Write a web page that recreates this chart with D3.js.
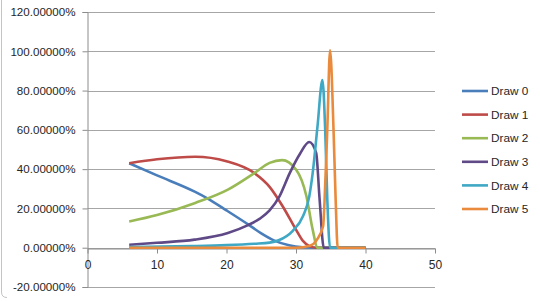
<!DOCTYPE html>
<html>
<head>
<meta charset="utf-8">
<script src="https://cdn.jsdelivr.net/npm/d3@7/dist/d3.min.js"></script>
<style>
  body { margin: 0; background: #fff; }
  svg { display: block; font-family: "Liberation Sans", Arial, sans-serif; }
  .tick text { fill: #262626; }
</style>
</head>
<body>
<svg width="540" height="301"></svg>
<script>
var svg = d3.select("svg");

var seriesNames = ["Draw 0", "Draw 1", "Draw 2", "Draw 3", "Draw 4", "Draw 5"];
var colors = ["#4a7ebb", "#be4b48", "#98b954", "#5f4a87", "#3fa8c4", "#e98a3c"];

var yTicks = [-20, 0, 20, 40, 60, 80, 100, 120];
var xTicks = [0, 10, 20, 30, 40, 50];

// each series: x positions and percent values
var draw0X = [6, 10, 15.5, 17.3, 20, 23.1, 25, 26.9, 29, 31, 32.5, 40];
var draw0Y = [43, 36.8, 28.4, 25, 19, 11.9, 7.3, 3.6, 1.2, 0.2, 0, 0];

var draw1X = [6, 10, 15.5, 20, 24, 26.2, 28.1, 30, 31, 32, 33, 40];
var draw1Y = [43, 45, 46.3, 44, 38, 31, 21, 9.2, 3.5, 0.7, 0, 0];

var draw2X = [6, 10, 15.5, 20.2, 24, 26.2, 28, 30, 31.5, 32.4, 33.1, 40];
var draw2Y = [13.3, 16.6, 22.8, 29.6, 38, 43.2, 44.6, 39.8, 26.2, 9.2, 0, 0];

var draw3X = [6, 10, 15.4, 20.2, 23.1, 24.8, 26.2, 27.6, 29.1, 30.6, 31.9, 32.9, 33.4, 34, 40];
var draw3Y = [1.5, 2.5, 4.1, 7.5, 11.5, 14.8, 19, 26, 38, 48, 53.8, 48.3, 24.5, 0, 0];

var draw4X = [6, 15, 20, 24, 26.2, 27.5, 29.5, 31, 31.9, 32.4, 33.1, 33.8, 34.2, 34.5, 34.9, 40];
var draw4Y = [0.3, 0.8, 1.3, 2, 2.6, 3.8, 8.5, 16, 26, 38, 62, 85.4, 60, 25, 0, 0];

var draw5X = [6, 30, 32, 33, 33.9, 34.1, 34.5, 34.9, 35.4, 35.7, 36, 40];
var draw5Y = [0, 0, 1, 4, 11, 23, 60, 100.5, 60, 25, 0, 0];

var seriesX = [draw0X, draw1X, draw2X, draw3X, draw4X, draw5X];
var seriesY = [draw0Y, draw1Y, draw2Y, draw3Y, draw4Y, draw5Y];

var x = d3.scaleLinear().domain([0, 50]).range([87.5, 435]);
var y = d3.scaleLinear().domain([-20, 120]).range([287, 12]);

// chart border (only left edge visible)
svg.append("path")
    .attr("d", "M1.5,0 L1.5,292 Q1.5,297.5 7,297.5")
    .attr("fill", "none")
    .attr("stroke", "#c4c4c4");

// gridlines
svg.append("g")
    .selectAll("line")
    .data(yTicks)
  .enter().append("line")
    .attr("x1", x(0))
    .attr("x2", x(50))
    .attr("y1", function(d) { return Math.round(y(d)) + 0.5; })
    .attr("y2", function(d) { return Math.round(y(d)) + 0.5; })
    .attr("stroke", "#a6a6a6")
    .attr("stroke-width", 1);

// y axis
var yAxis = svg.append("g")
    .attr("transform", "translate(" + x(0) + ",0)")
    .call(d3.axisLeft(y).tickValues(yTicks).tickSize(5).tickPadding(7)
      .tickFormat(function(d) { return d.toFixed(5) + "%"; }));
yAxis.selectAll("text").style("font-size", "11.6px");

// x axis at zero
var xAxis = svg.append("g")
    .attr("transform", "translate(0," + (Math.round(y(0)) + 0.5) + ")")
    .call(d3.axisBottom(x).tickValues(xTicks).tickSize(5).tickPadding(7).tickSizeOuter(0));
xAxis.selectAll("text").style("font-size", "12px");

svg.selectAll(".domain").attr("stroke", "#8c8c8c");
svg.selectAll(".tick line").attr("stroke", "#8c8c8c");

// lines
var line = d3.line()
    .x(function(d) { return x(d[0]); })
    .y(function(d) { return y(d[1]); })
    .curve(d3.curveMonotoneX);

seriesNames.forEach(function(name, i) {
  var pts = seriesX[i].map(function(v, j) { return [v, seriesY[i][j]]; });
  svg.append("path")
      .datum(pts)
      .attr("fill", "none")
      .attr("stroke", colors[i])
      .attr("stroke-width", 2.6)
      .attr("stroke-linejoin", "round")
      .attr("d", line);
});

// legend
var legend = svg.append("g").selectAll("g")
    .data(seriesNames)
  .enter().append("g")
    .attr("transform", function(d, i) { return "translate(462," + (91 + i * 23.6) + ")"; });

legend.append("line")
    .attr("x1", 0).attr("x2", 26)
    .attr("stroke", function(d, i) { return colors[i]; })
    .attr("stroke-width", 2.6);

legend.append("text")
    .attr("x", 29)
    .attr("dy", "0.35em")
    .style("font-size", "11.8px")
    .attr("fill", "#262626")
    .text(function(d) { return d; });
</script>
</body>
</html>
